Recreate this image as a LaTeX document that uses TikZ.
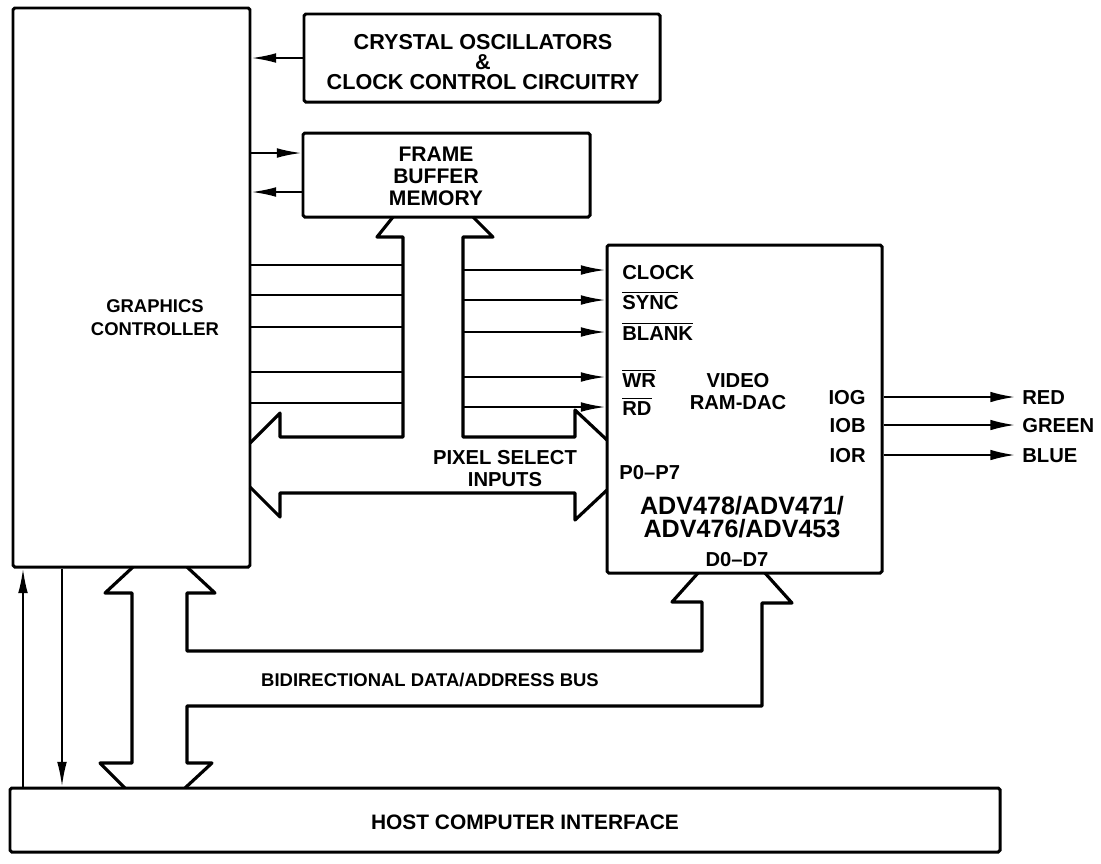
\documentclass[tikz,border=0pt]{standalone}
\usepackage{fontspec}
\setmainfont{Liberation Sans}
\usetikzlibrary{arrows.meta,fit}
\newcommand\ovl[1]{$\overline{\hbox{#1}}$}
\begin{document}
\begin{tikzpicture}[x=0.02cm,y=-0.02cm,
  box/.style={draw, line width=1.7pt, inner sep=0pt, rounded corners=1pt},
  lbl/.style={font=\bfseries\fontsize{11.5}{12.5}\selectfont, inner sep=0pt, align=center},
  big/.style={font=\bfseries\fontsize{14.3}{13.5}\selectfont, inner sep=0pt, align=center},
  sig/.style={line width=1.1pt, -{Latex[length=14pt,width=5.5pt]}},
  wire/.style={line width=1.1pt},
  bus/.style={line width=1.8pt, line join=round}]
\fill[white] (0,0) rectangle (1101,863);
\useasboundingbox (0,0) rectangle (1101,863);
% boxes
\node[box, fit={(13,8) (250,567)}] (gc) {};
\node[lbl, font=\bfseries\fontsize{10.5}{13}\selectfont] (gct) at (155,318) {GRAPHICS\\CONTROLLER};
\node[box, fit={(304,14) (660,102)}] (xtal) {};
\node[lbl, font=\bfseries\fontsize{12.3}{11.5}\selectfont] (xtalt) at (483,62) {CRYSTAL OSCILLATORS\\\&\\CLOCK CONTROL CIRCUITRY};
\node[box, fit={(303,133) (590,217)}] (fb) {};
\node[lbl, font=\bfseries\fontsize{12}{12.5}\selectfont] (fbt) at (436,176) {FRAME\\BUFFER\\MEMORY};
\node[box, fit={(607,245) (882,573)}] (dac) {};
\node[box, fit={(10,788) (1000,852)}] (host) {};
\node[lbl, font=\bfseries\fontsize{11.9}{12.5}\selectfont] (hostt) at (525,822) {HOST COMPUTER INTERFACE};
% control arrows
\draw[sig] (xtal.west) -- (xtal.west -| gc.east);
\draw[sig] (gc.east |- 0,153) -- (fb.west |- 0,153);
\draw[sig] (fb.west |- 0,192) -- (gc.east |- 0,192);
% bus coordinates
\coordinate (busL) at (403,437);
\coordinate (busR) at (463,437);
\foreach \y in {265,295,327,372,403}
  \draw[wire] (gc.east |- 0,\y) -- (busL |- 0,\y);
\foreach \y in {270,300,332,377,407}
  \draw[sig] (busR |- 0,\y) -- (dac.west |- 0,\y);
% frame buffer / pixel bus
\draw[bus] (393,217) -- (377,237) -- (403,237) -- (403,437) -- (280,437) -- (280,413) -- (250,443);
\draw[bus] (473,217) -- (493,237) -- (463,237) -- (463,437) -- (575,437) -- (575,410) -- (607,440);
\draw[bus] (250,487) -- (280,517) -- (280,493) -- (575,493) -- (575,520) -- (607,490);
% data/address bus
\draw[bus] (133,567) -- (105,593) -- (132,593) -- (132,763) -- (100,763) -- (125,788);
\draw[bus] (187,567) -- (215,593) -- (187,593) -- (187,651) -- (702,651) -- (702,602) -- (672,602) -- (698,573);
\draw[bus] (765,573) -- (792,603) -- (762,603) -- (762,706) -- (187,706) -- (187,763) -- (212,763) -- (185,788);
% host lines
\draw[sig] (host.north -| 23,0) -- (gc.south -| 23,0);
\draw[sig] (gc.south -| 62,0) -- (host.north -| 62,0);
% labels
\node[lbl] (pix) at (505,469) {PIXEL SELECT\\INPUTS};
\node[lbl, font=\bfseries\fontsize{10.5}{12.5}\selectfont] (bidir) at (430,680) {BIDIRECTIONAL DATA/ADDRESS BUS};
\node[lbl, anchor=base west] (pclk) at (622,279) {CLOCK};
\node[lbl, anchor=base west] (psync) at (622,309) {\ovl{SYNC}};
\node[lbl, anchor=base west] (pblank) at (622,340) {\ovl{BLANK}};
\node[lbl, anchor=base west] (pwr) at (622,387) {\ovl{WR}};
\node[lbl, anchor=base west] (prd) at (622,415) {\ovl{RD}};
\node[lbl, anchor=base west] (ppix) at (619,479) {P0--P7};
\node[lbl] (vid) at (738,392) {VIDEO\\RAM-DAC};
\node[big] (adv) at (742,517) {ADV478/ADV471/\\ADV476/ADV453};
\node[lbl] (d07) at (737,560) {D0--D7};
\foreach \y/\n/\t in {397/IOG/RED, 425/IOB/GREEN, 455/IOR/BLUE} {
  \node[lbl, anchor=base east] (pin\n) at (866,\y+7) {\n};
  \node[lbl, anchor=base west] (out\t) at (1022,\y+7) {\t};
  \draw[sig, -{Latex[length=14pt,width=6pt]}, shorten >=4pt] (dac.east |- 0,\y) -- (out\t.west |- 0,\y);
}
\end{tikzpicture}
\end{document}
